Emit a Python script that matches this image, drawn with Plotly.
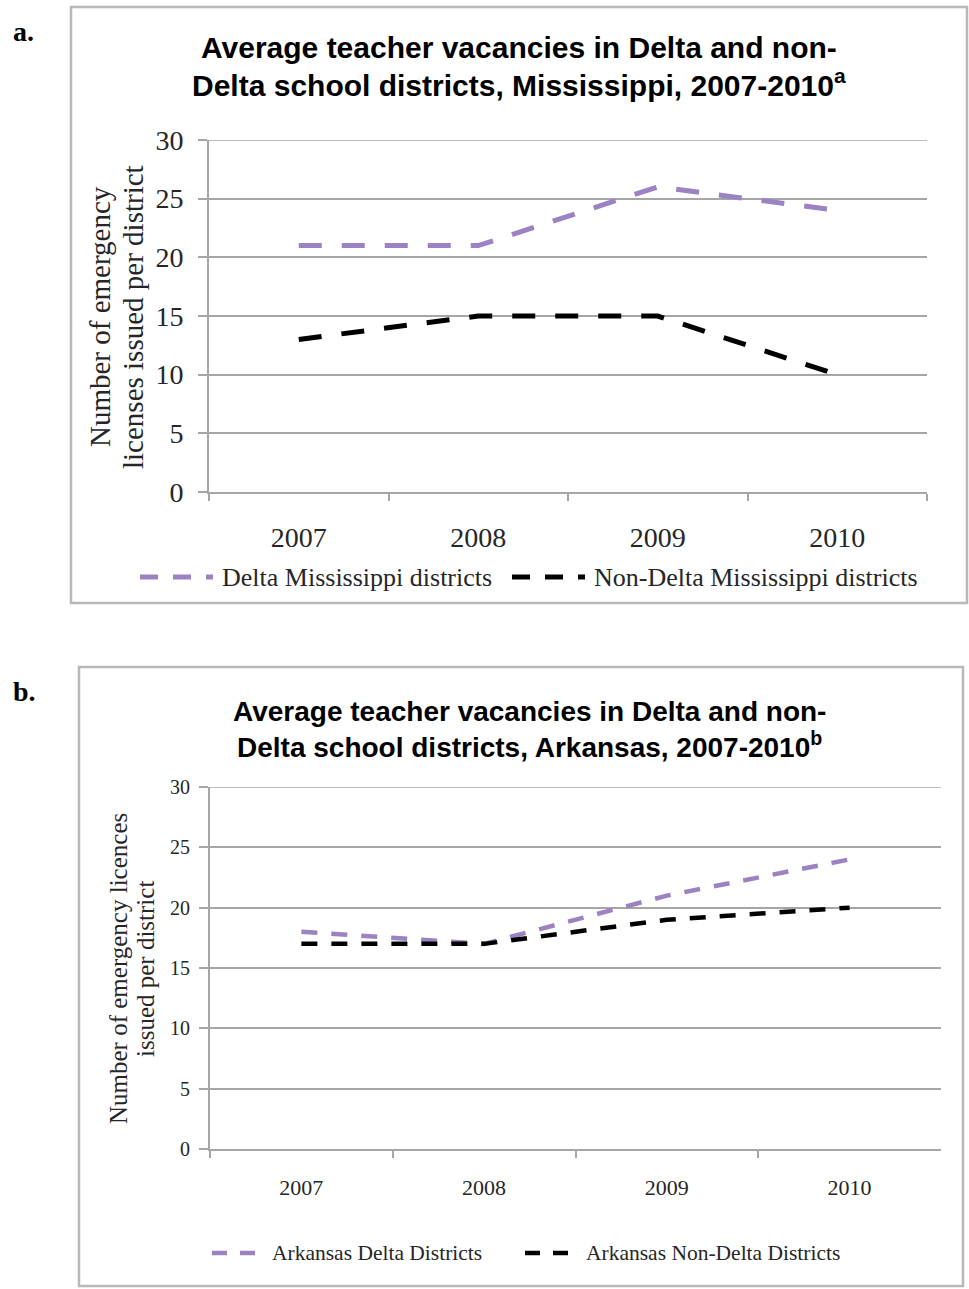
import plotly.graph_objects as go

# ---- data -------------------------------------------------------------
years = ["2007", "2008", "2009", "2010"]

ms_delta = [21, 21, 26, 24]          # Delta Mississippi districts
ms_nondelta = [13, 15, 15, 10]       # Non-Delta Mississippi districts

ar_delta = [18, 17, 21, 24]          # Arkansas Delta districts
ar_nondelta = [17, 17, 19, 20]       # Arkansas Non-Delta districts

y_ticks = [0, 5, 10, 15, 20, 25, 30]

# ---- page geometry helpers -------------------------------------------
W, H = 969, 1289


def fx(px):
    return px / W


def fy(py):
    return 1 - py / H


PURPLE = "#9b83c3"
BLACK = "#000000"
GRID = "#a6a6a6"
TEXT = "#262626"
SERIF = "Liberation Serif, Times New Roman, serif"
SANS = "Liberation Sans, Arial, sans-serif"

fig = go.Figure()

# Mississippi panel
fig.add_trace(go.Scatter(x=years, y=ms_delta, mode="lines", name="Delta Mississippi districts",
                         line=dict(color=PURPLE, width=5, dash="23px,20px"),
                         xaxis="x", yaxis="y", showlegend=False))
fig.add_trace(go.Scatter(x=years, y=ms_nondelta, mode="lines", name="Non-Delta Mississippi districts",
                         line=dict(color=BLACK, width=5, dash="23px,20px"),
                         xaxis="x", yaxis="y", showlegend=False))

# Arkansas panel
fig.add_trace(go.Scatter(x=years, y=ar_delta, mode="lines", name="Arkansas Delta Districts",
                         line=dict(color=PURPLE, width=4.5, dash="16px,14px"),
                         xaxis="x2", yaxis="y2", showlegend=False))
fig.add_trace(go.Scatter(x=years, y=ar_nondelta, mode="lines", name="Arkansas Non-Delta Districts",
                         line=dict(color=BLACK, width=4.5, dash="16px,14px"),
                         xaxis="x2", yaxis="y2", showlegend=False))


def xaxis_style(domain, anchor, size, standoff):
    return dict(domain=domain, anchor=anchor, type="category", range=[-0.5, 3.5],
                showline=True, linecolor=GRID, linewidth=2,
                ticks="outside", tickson="boundaries", ticklen=7, tickcolor=GRID, tickwidth=1.5,
                showgrid=False, zeroline=False, automargin=False,
                tickfont=dict(family=SERIF, size=size, color=TEXT),
                ticklabelstandoff=standoff, fixedrange=True)


def yaxis_style(domain, anchor, size, standoff):
    return dict(domain=domain, anchor=anchor, range=[0, 30], tickvals=y_ticks,
                showline=True, linecolor=GRID, linewidth=2,
                ticks="outside", ticklen=9, tickcolor=GRID, tickwidth=1.5,
                showgrid=True, gridcolor=GRID, gridwidth=1.5, zeroline=False, automargin=False,
                tickfont=dict(family=SERIF, size=size, color=TEXT),
                ticklabelstandoff=standoff, fixedrange=True)


layout = dict(
    width=W, height=H, margin=dict(l=0, r=0, t=0, b=0, pad=0, autoexpand=False),
    paper_bgcolor="white", plot_bgcolor="white",
    xaxis=xaxis_style([fx(209), fx(927)], "y", 28, 19),
    yaxis=yaxis_style([fy(492), fy(140)], "x", 28, 9),
    xaxis2=xaxis_style([fx(210), fx(941)], "y2", 22, 18),
    yaxis2=yaxis_style([fy(1149), fy(787)], "x2", 20, 5),
)
fig.update_layout(**layout)

annotations = []
shapes = []

# top gridline of each panel (plotly leaves the one on the range edge out)
for xa, ya in (("x", "y"), ("x2", "y2")):
    shapes.append(dict(type="line", xref=xa + " domain", yref=ya, x0=0, x1=1, y0=30, y1=30,
                       line=dict(color=GRID, width=1.5), layer="below"))

# panel frames
shapes.append(dict(type="rect", xref="paper", yref="paper",
                   x0=fx(71), x1=fx(967), y0=fy(603), y1=fy(7),
                   line=dict(color="#b8b8b8", width=2.5)))
shapes.append(dict(type="rect", xref="paper", yref="paper",
                   x0=fx(79), x1=fx(963), y0=fy(1286), y1=fy(667),
                   line=dict(color="#b8b8b8", width=2.5)))

# panel letters
for letter, ypx in (("a.", 31), ("b.", 691)):
    annotations.append(dict(text="<b>" + letter + "</b>", x=fx(11), y=fy(ypx), xref="paper", yref="paper",
                            xanchor="left", yanchor="middle", showarrow=False,
                            font=dict(family=SERIF, size=28, color=BLACK)))

# titles
titles = [
    ("Average teacher vacancies in Delta and non-", 519, 47, 30),
    ("Delta school districts, Mississippi, 2007-2010<sup>a</sup>", 519, 83, 30),
    ("Average teacher vacancies in Delta and non-", 529, 711, 28),
    ("Delta school districts, Arkansas, 2007-2010<sup>b</sup>", 529, 745, 28),
]
for txt, xpx, ypx, size in titles:
    annotations.append(dict(text="<b>" + txt + "</b>", x=fx(xpx), y=fy(ypx), xref="paper", yref="paper",
                            xanchor="center", yanchor="middle", showarrow=False,
                            font=dict(family=SANS, size=size, color=BLACK)))

# y-axis titles, one annotation per line
ytitle_lines = [
    ("Number of emergency", 100, 317, 29),
    ("licenses issued per district", 133, 317, 29),
    ("Number of emergency licences", 118, 969, 25),
    ("issued per district", 145, 969, 25),
]
for txt, xpx, ypx, size in ytitle_lines:
    annotations.append(dict(text=txt, x=fx(xpx), y=fy(ypx), xref="paper", yref="paper",
                            xanchor="center", yanchor="middle", textangle=-90, showarrow=False,
                            font=dict(family=SERIF, size=size, color=TEXT)))

# legends: sample line + label
legend_items = [
    (140, 213, 577, PURPLE, 5, "18px,15px", 220, "Delta Mississippi districts", 26),
    (512, 585, 577, BLACK, 5, "18px,15px", 592, "Non-Delta Mississippi districts", 26),
    (212, 257, 1253, PURPLE, 4.5, "15px,13px", 270, "Arkansas Delta Districts", 21.5),
    (525, 570, 1253, BLACK, 4.5, "15px,13px", 584, "Arkansas Non-Delta Districts", 21.5),
]
for x0, x1, ypx, color, width, dash, tx, label, size in legend_items:
    shapes.append(dict(type="line", xref="paper", yref="paper",
                       x0=fx(x0), x1=fx(x1), y0=fy(ypx), y1=fy(ypx),
                       line=dict(color=color, width=width, dash=dash)))
    annotations.append(dict(text=label, x=fx(tx), y=fy(ypx), xref="paper", yref="paper",
                            xanchor="left", yanchor="middle", showarrow=False,
                            font=dict(family=SERIF, size=size, color=TEXT)))

fig.update_layout(annotations=annotations, shapes=shapes)

fig.write_html("out.html")
